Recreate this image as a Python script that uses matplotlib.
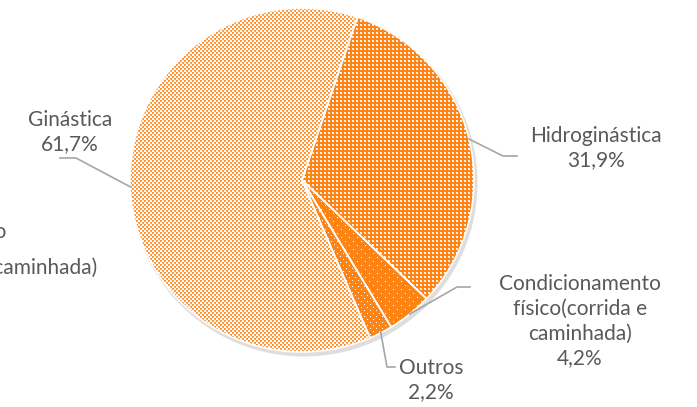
import numpy as np
import matplotlib
matplotlib.use("Agg")
import matplotlib.pyplot as plt

# dados
categorias = ["Hidroginástica", "Condicionamento\nfísico(corrida e\ncaminhada)", "Outros", "Ginástica"]
valores = [31.9, 4.2, 2.2, 61.7]
rotulos_pct = ["31,9%", "4,2%", "2,2%", "61,7%"]

W, H = 697, 407
plt.rcParams['font.family'] = ['Lato', 'DejaVu Sans']
cinza = '#595959'
laranja = np.array([255, 132, 20]) / 255.0
branco = np.ones(3)

fig = plt.figure(figsize=(W / 100, H / 100), dpi=100)
ax = fig.add_axes([0, 0, 1, 1])

# pie em coordenadas de pixel (y para cima)
cx, cy, r = 302, H - 180, 172
wedges, _ = ax.pie(valores, center=(cx, cy), radius=r, startangle=90 - 18.8,
                   counterclock=False,
                   wedgeprops=dict(facecolor='none', edgecolor='white', linewidth=1.2, zorder=3))

# sombra suave
sombra = plt.Circle((cx + 2, cy - 3), r + 1.5, facecolor='#dedede', edgecolor='none', zorder=0.5)
ax.add_patch(sombra)
fundo = plt.Circle((cx, cy), r, facecolor='white', edgecolor='none', zorder=0.6)
ax.add_patch(fundo)

# texturas (padrões tipo Excel)
def textura(tile, cor_on, cor_off=branco):
    t = np.asarray(tile, dtype=float)
    ny = H // t.shape[0] + 1
    nx = W // t.shape[1] + 1
    m = np.tile(t, (ny, nx))[:H, :W]
    return m[..., None] * cor_on + (1 - m[..., None]) * cor_off

claro = [[1, 1, 0, 0], [1, 0.6, 0, 0], [0, 0, 1, 1], [0, 0, 0.6, 1]]
medio = [[0, 0.3, 1, 1], [0.3, 0, 1, 1], [1, 1, 1, 1], [1, 1, 1, 1]]
pontos = np.ones((8, 8)); pontos[1, 1] = 0; pontos[5, 5] = 0
pontos2 = np.ones((6, 6)); pontos2[1, 1] = 0; pontos2[4, 4] = 0

laranja_claro = np.array([255, 145, 45]) / 255.0
imgs = [textura(medio, laranja), textura(pontos, laranja),
        textura(pontos2, laranja), textura(claro, laranja_claro)]
for w, img in zip(wedges, imgs):
    im = ax.imshow(img, extent=(0, W, 0, H), origin='upper', interpolation='nearest', zorder=1)
    im.set_clip_path(w)

# rótulos e linhas de chamada
pos_texto = [(596, H - 148), (580, H - 321), (431, H - 380), (70, H - 132)]
cotovelo = [((503, H - 156), (517, H - 156)),
            ((457, H - 287), (470, H - 287)),
            ((387, H - 367), (395, H - 367)),
            ((76, H - 158), (60, H - 158))]
for w, cat, pct, (tx, ty), (p1, p2) in zip(wedges, categorias, rotulos_pct, pos_texto, cotovelo):
    ang = np.deg2rad((w.theta1 + w.theta2) / 2)
    x0, y0 = cx + r * np.cos(ang), cy + r * np.sin(ang)
    ax.plot([x0, p1[0], p2[0]], [y0, p1[1], p2[1]], color='#a6a6a6', lw=1.2, zorder=4)
    ax.text(tx, ty, cat + "\n" + pct, ha='center', va='center', color=cinza,
            fontsize=15, linespacing=1.3, zorder=5)

# rótulo fantasma cortado na borda esquerda
ax.text(6, H - 232, "Condicionamento físico", ha='right', va='center', color=cinza, fontsize=15)
ax.text(97, H - 268, "(corrida e caminhada)", ha='right', va='center', color=cinza, fontsize=15)

ax.set_xlim(0, W)
ax.set_ylim(0, H)
ax.set_aspect('auto')
ax.axis('off')

fig.savefig("out.png", dpi=100)
